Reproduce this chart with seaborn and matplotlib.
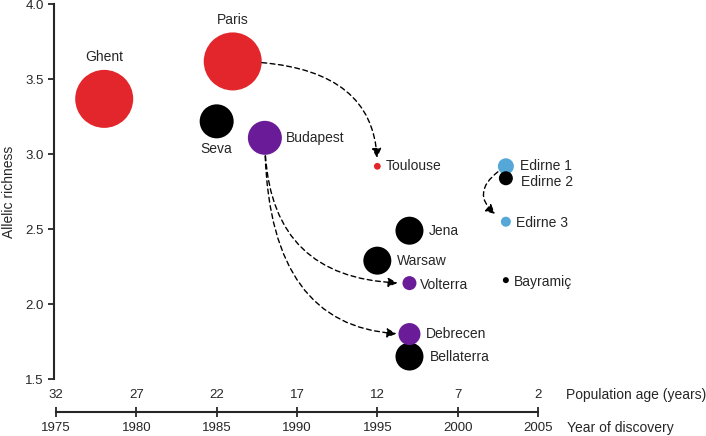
import pandas as pd
import matplotlib.pyplot as plt
import seaborn as sns

sns.set_style("ticks")
plt.rcParams["font.family"] = ["Liberation Sans", "DejaVu Sans"]

# Data
populations = ["Ghent", "Paris", "Seva", "Budapest", "Toulouse", "Jena", "Warsaw",
               "Volterra", "Bellaterra", "Debrecen", "Edirne 1", "Edirne 2",
               "Edirne 3", "Bayramiç"]
year_found = [1978, 1986, 1985, 1988, 1995, 1997, 1995,
              1997, 1997, 1997, 2003, 2003, 2003, 2003]
richness = [3.37, 3.62, 3.22, 3.11, 2.92, 2.49, 2.29,
            2.14, 1.65, 1.80, 2.92, 2.84, 2.55, 2.16]
bubble = [29, 29, 17, 17, 3.4, 14, 14, 7, 14, 11, 8, 7, 5, 3]   # relative bubble radius
lineage = ["red", "red", "black", "purple", "red", "black", "black",
           "purple", "black", "purple", "blue", "black", "blue", "black"]

year_ticks = [1975, 1980, 1985, 1990, 1995, 2000, 2005]
age_ticks = [32, 27, 22, 17, 12, 7, 2]
y_ticks = [1.5, 2.0, 2.5, 3.0, 3.5, 4.0]

# introductions: source -> destination
links = [("Paris", "Toulouse"), ("Budapest", "Volterra"),
         ("Budapest", "Debrecen"), ("Edirne 1", "Edirne 3")]

palette = {"red": "#E2262B", "black": "#000000", "purple": "#6A1B97", "blue": "#55A7D7"}

df = pd.DataFrame({"pop": populations, "year": year_found, "richness": richness,
                   "r": bubble, "lineage": lineage})

W, H = 706, 436
fig = plt.figure(figsize=(W / 100, H / 100), dpi=100)
px_per_year = (538 - 56) / 30

ax = fig.add_axes([54 / W, (H - 379) / H, (538 - 54) / W, (379 - 4.5) / H])
sns.scatterplot(data=df, x="year", y="richness", hue="lineage", palette=palette,
                s=(df["r"] * 1.44) ** 2, linewidth=0, legend=False, ax=ax,
                clip_on=False, zorder=3)
ax.set_xlim(1975 - 2 / px_per_year, 2005)
ax.set_ylim(1.5, 4.0)
ax.set_xticks([])
ax.set_yticks(y_ticks)
ax.set_yticklabels([f"{v:.1f}" for v in y_ticks])
ax.set_xlabel("")
ax.set_ylabel("")
for side in ["top", "right", "bottom"]:
    ax.spines[side].set_visible(False)
ax.spines["left"].set_linewidth(1.5)
ax.tick_params(axis="y", length=4.5, width=1.3, pad=3, labelsize=9.5)

# label placement (px offsets from bubble centre, right / up)
label_pos = {
    "Ghent": (0, 42, "center"), "Paris": (0, 41, "center"), "Seva": (0, -28, "center"),
    "Budapest": (21, 0, "left"), "Toulouse": (8, 0, "left"), "Jena": (19.5, 0, "left"),
    "Warsaw": (19.5, 0, "left"), "Volterra": (10, -1.5, "left"),
    "Debrecen": (16, 0, "left"), "Bellaterra": (20, 0, "left"),
    "Edirne 1": (14, 0, "left"), "Edirne 2": (15, -3.5, "left"),
    "Edirne 3": (10, -1, "left"), "Bayramiç": (8, -1.5, "left"),
}
for p, x, y in zip(populations, year_found, richness):
    dx, dy, ha = label_pos[p]
    ax.annotate(p, (x, y), xytext=(dx * 0.72, dy * 0.72), textcoords="offset points",
                ha=ha, va="center", fontsize=10, annotation_clip=False)

# dashed introduction arrows
arrow_style = [
    ("angle3,angleA=0,angleB=90", 21, 6),
    ("angle3,angleA=90,angleB=0", 13, 8.6),
    ("angle3,angleA=90,angleB=0", 13, 9.4),
    ("arc3,rad=0.8", 7, 9.5),
]
pos = {p: (x, y) for p, x, y in zip(populations, year_found, richness)}
for (src, dst), (conn, sa, sb) in zip(links, arrow_style):
    ax.annotate("", xy=pos[dst], xytext=pos[src],
                arrowprops=dict(arrowstyle="-|>", connectionstyle=conn, color="black",
                                lw=1, linestyle=(0, (3.5, 2.5)), shrinkA=sa, shrinkB=sb,
                                mutation_scale=14))

fig.text(9 / W, 1 - 192 / H, "Allelic richness", rotation=90, ha="center", va="center",
         fontsize=10)

# bottom double axis: population age above, year of discovery below
axb = fig.add_axes([56 / W, (H - 412) / H, (538 - 56) / W, 0.0001])
axb.set_xlim(1975, 2005)
axb.set_yticks([])
for side in ["top", "left", "right"]:
    axb.spines[side].set_visible(False)
axb.spines["bottom"].set_linewidth(1.5)
axb.set_xticks(year_ticks)
axb.set_xticklabels([str(v) for v in year_ticks])
axb.tick_params(axis="x", direction="inout", length=7, width=1.3, pad=4, labelsize=9.5)

axt = axb.twiny()
axt.set_xlim(1975, 2005)
axt.set_xticks(year_ticks)
axt.set_xticklabels([str(v) for v in age_ticks])
axt.tick_params(axis="x", length=0, pad=8, labelsize=9.5)
for side in ["top", "bottom", "left", "right"]:
    axt.spines[side].set_visible(False)

fig.text(566 / W, 1 - 395 / H, "Population age (years)", ha="left", va="center", fontsize=10)
fig.text(567 / W, 1 - 428 / H, "Year of discovery", ha="left", va="center", fontsize=10)

fig.savefig("out.png", dpi=100)
